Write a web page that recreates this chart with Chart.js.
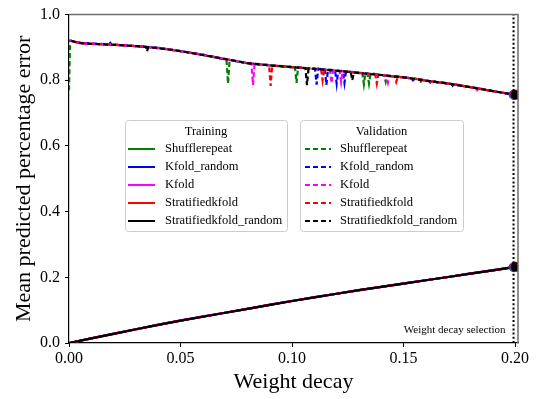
<!DOCTYPE html>
<html>
<head>
<meta charset="utf-8">
<script src="https://cdn.jsdelivr.net/npm/chart.js@4.4.1/dist/chart.umd.min.js"></script>
<style>
  html, body { margin: 0; padding: 0; background: #fff; }
  canvas { display: block; }
</style>
</head>
<body>
<canvas id="decayChart" width="547" height="399"></canvas>
<script>
// =====================================================
// DATA
// =====================================================
const xTicks = [0, 0.05, 0.1, 0.15, 0.2];
const yTicks = [0, 0.2, 0.4, 0.6, 0.8, 1.0];
const methods = ["Shufflerepeat", "Kfold_random", "Kfold", "Stratifiedkfold", "Stratifiedkfold_random"];
const colors = ["#008000", "#0000ff", "#ff00ff", "#ff0000", "#000000"];

// training error, shared weight decay grid
const trainX = [0, 0.01, 0.02, 0.03, 0.04, 0.05, 0.06, 0.07, 0.08, 0.09, 0.10,
                0.11, 0.12, 0.13, 0.14, 0.15, 0.16, 0.17, 0.18, 0.19, 0.20];
const trainShuffle     = [0, 0.014, 0.028, 0.042, 0.055, 0.068, 0.080, 0.092, 0.104, 0.116, 0.128, 0.139, 0.150, 0.161, 0.171, 0.181, 0.191, 0.201, 0.211, 0.221, 0.231];
const trainKfoldRandom = [0, 0.014, 0.029, 0.042, 0.056, 0.068, 0.081, 0.092, 0.104, 0.116, 0.128, 0.140, 0.150, 0.161, 0.171, 0.182, 0.191, 0.201, 0.212, 0.221, 0.232];
const trainKfold       = [0, 0.014, 0.028, 0.042, 0.055, 0.069, 0.080, 0.092, 0.104, 0.117, 0.128, 0.139, 0.150, 0.160, 0.171, 0.181, 0.191, 0.201, 0.211, 0.222, 0.232];
const trainStrat       = [0, 0.014, 0.028, 0.041, 0.055, 0.068, 0.080, 0.092, 0.104, 0.116, 0.128, 0.139, 0.150, 0.161, 0.171, 0.181, 0.191, 0.201, 0.211, 0.221, 0.232];
const trainStratRandom = [0, 0.014, 0.028, 0.042, 0.055, 0.068, 0.080, 0.092, 0.104, 0.116, 0.128, 0.139, 0.150, 0.161, 0.171, 0.181, 0.191, 0.201, 0.211, 0.221, 0.232];

// validation error, [weight decay, error] per method
const valShuffle = [[0,0.770],[0.0005,0.921],[0.005,0.914],[0.01,0.911],[0.02,0.908],[0.03,0.904],[0.04,0.898],[0.05,0.889],[0.06,0.877],[0.07,0.864],[0.0706,0.863],[0.0713,0.790],[0.072,0.862],[0.08,0.852],[0.09,0.846],[0.10,0.841],[0.1013,0.840],[0.102,0.792],[0.1027,0.839],[0.11,0.835],[0.12,0.829],[0.13,0.823],[0.1315,0.822],[0.1322,0.788],[0.1329,0.822],[0.1338,0.821],[0.1345,0.790],[0.1352,0.821],[0.14,0.816],[0.1413,0.815],[0.142,0.795],[0.1427,0.814],[0.15,0.809],[0.1573,0.802],[0.158,0.792],[0.1587,0.801],[0.16,0.799],[0.17,0.790],[0.18,0.779],[0.19,0.767],[0.2,0.756]];
const valKfoldRandom = [[0.0005,0.921],[0.005,0.914],[0.01,0.912],[0.018,0.910],[0.0185,0.914],[0.019,0.909],[0.03,0.904],[0.04,0.899],[0.05,0.889],[0.06,0.878],[0.07,0.864],[0.08,0.852],[0.09,0.845],[0.10,0.840],[0.1103,0.835],[0.111,0.787],[0.1117,0.835],[0.1147,0.833],[0.1154,0.786],[0.1161,0.833],[0.1193,0.830],[0.12,0.790],[0.1207,0.829],[0.1228,0.828],[0.1235,0.792],[0.1242,0.827],[0.13,0.823],[0.14,0.816],[0.15,0.809],[0.1535,0.806],[0.1542,0.800],[0.1549,0.805],[0.1613,0.798],[0.162,0.793],[0.1627,0.797],[0.1643,0.796],[0.165,0.793],[0.1657,0.795],[0.17,0.790],[0.1713,0.789],[0.172,0.783],[0.1727,0.788],[0.18,0.779],[0.19,0.767],[0.2,0.756]];
const valKfold = [[0.0005,0.921],[0.005,0.913],[0.01,0.911],[0.02,0.909],[0.03,0.904],[0.04,0.898],[0.05,0.889],[0.06,0.878],[0.07,0.865],[0.08,0.853],[0.0818,0.852],[0.0825,0.786],[0.0832,0.851],[0.09,0.846],[0.10,0.840],[0.11,0.835],[0.117,0.831],[0.1177,0.791],[0.1184,0.830],[0.1213,0.828],[0.122,0.795],[0.1227,0.828],[0.13,0.822],[0.14,0.816],[0.1423,0.814],[0.143,0.793],[0.1437,0.813],[0.15,0.809],[0.16,0.799],[0.17,0.790],[0.18,0.779],[0.1823,0.777],[0.183,0.770],[0.1837,0.776],[0.19,0.767],[0.2,0.756]];
const valStrat = [[0.0005,0.920],[0.005,0.913],[0.01,0.911],[0.02,0.908],[0.03,0.904],[0.04,0.898],[0.05,0.889],[0.06,0.877],[0.07,0.864],[0.08,0.852],[0.0897,0.846],[0.0904,0.783],[0.0911,0.845],[0.10,0.840],[0.11,0.835],[0.113,0.833],[0.1137,0.800],[0.1144,0.832],[0.12,0.829],[0.13,0.823],[0.1373,0.818],[0.138,0.790],[0.1387,0.817],[0.14,0.816],[0.146,0.811],[0.1467,0.795],[0.1474,0.810],[0.15,0.809],[0.1535,0.806],[0.1542,0.798],[0.1549,0.805],[0.16,0.799],[0.17,0.790],[0.18,0.779],[0.19,0.767],[0.2,0.756]];
const valStratRandom = [[0.0005,0.921],[0.005,0.913],[0.01,0.911],[0.02,0.908],[0.03,0.904],[0.0345,0.902],[0.035,0.888],[0.0355,0.901],[0.04,0.898],[0.05,0.889],[0.06,0.877],[0.07,0.865],[0.08,0.852],[0.09,0.845],[0.10,0.840],[0.106,0.837],[0.1067,0.785],[0.1074,0.836],[0.11,0.835],[0.12,0.829],[0.1263,0.825],[0.127,0.800],[0.1277,0.824],[0.13,0.822],[0.14,0.816],[0.15,0.809],[0.16,0.799],[0.17,0.790],[0.18,0.779],[0.19,0.767],[0.2,0.756]];

// end-of-run markers (selected weight decay), slightly offset per method
const markerX = [0.1993, 0.2, 0.2, 0.2006, 0.2];
const selectionX = 0.1993;

const trainSets = [trainShuffle, trainKfoldRandom, trainKfold, trainStrat, trainStratRandom];
const valSets = [valShuffle, valKfoldRandom, valKfold, valStrat, valStratRandom];

// =====================================================
// DATASETS
// =====================================================
const FONT = "'Liberation Serif', 'Times New Roman', serif";
let datasets = [];

methods.forEach((m, i) => {
    datasets.push({
        label: m + " (train)",
        data: trainX.map((x, k) => ({ x: x, y: trainSets[i][k] })),
        borderColor: colors[i],
        borderWidth: 2.2,
        pointRadius: 0,
        tension: 0
    });
});
methods.forEach((m, i) => {
    datasets.push({
        label: m + " (val)",
        data: valSets[i].map(p => ({ x: p[0], y: p[1] })),
        borderColor: colors[i],
        borderWidth: 2.2,
        borderDash: [5, 3],
        borderDashOffset: i * 1.7,
        pointRadius: 0,
        tension: 0
    });
});
methods.forEach((m, i) => {
    const tr = trainSets[i], va = valSets[i];
    datasets.push({
        label: m + " (end)",
        data: [{ x: markerX[i], y: tr[tr.length - 1] }, { x: markerX[i], y: va[va.length - 1][1] }],
        showLine: false,
        pointRadius: i === 4 ? 4 : 4.5,
        pointBackgroundColor: colors[i],
        pointBorderColor: colors[i],
        borderColor: colors[i]
    });
});
datasets.push({
    label: "selection",
    data: [{ x: selectionX, y: 0 }, { x: selectionX, y: 1 }],
    borderColor: "#000",
    borderWidth: 2,
    borderDash: [2, 2.2],
    pointRadius: 0
});

// Chart.js draws dataset 0 on top, so reverse to keep black last-drawn
datasets = datasets.reverse();

// =====================================================
// EXTRAS: spines, legend boxes, annotation
// =====================================================
function drawLegendBox(ctx, x, y, w, h, title, dashed) {
    ctx.save();
    ctx.fillStyle = "rgba(255,255,255,0.85)";
    ctx.strokeStyle = "#cccccc";
    ctx.lineWidth = 1;
    ctx.beginPath();
    ctx.roundRect(x + 0.5, y + 0.5, w, h, 3);
    ctx.fill();
    ctx.stroke();

    ctx.fillStyle = "#000";
    ctx.font = "12.5px " + FONT;
    ctx.textBaseline = "middle";
    ctx.textAlign = "center";
    ctx.fillText(title, x + w / 2, y + 12);

    ctx.textAlign = "left";
    methods.forEach((m, i) => {
        const ry = y + 29 + i * 18;
        ctx.strokeStyle = colors[i];
        ctx.lineWidth = 2;
        ctx.setLineDash(dashed ? [5, 3] : []);
        ctx.beginPath();
        ctx.moveTo(x + (dashed ? 5 : 3), ry);
        ctx.lineTo(x + (dashed ? 31 : 30), ry);
        ctx.stroke();
        ctx.setLineDash([]);
        ctx.fillStyle = "#000";
        ctx.fillText(m, x + 40, ry);
    });
    ctx.restore();
}

const extras = {
    id: "extras",
    afterDraw(chart) {
        const ctx = chart.ctx;
        const a = chart.chartArea;
        const xs = chart.scales.x;
        const ys = chart.scales.y;

        // top and right spines
        ctx.save();
        ctx.strokeStyle = "#6e6e6e";
        ctx.lineWidth = 1.5;
        ctx.beginPath();
        ctx.moveTo(a.left, a.top);
        ctx.lineTo(a.right, a.top);
        ctx.lineTo(a.right, a.bottom);
        ctx.stroke();
        ctx.restore();

        drawLegendBox(ctx, 125, 120, 162, 111, "Training", false);
        drawLegendBox(ctx, 300, 120, 163, 111, "Validation", true);

        ctx.save();
        ctx.fillStyle = "#000";
        ctx.font = "11px " + FONT;
        ctx.textAlign = "right";
        ctx.textBaseline = "alphabetic";
        ctx.fillText("Weight decay selection", xs.getPixelForValue(selectionX) - 8, ys.getPixelForValue(0) - 10);
        ctx.restore();
    }
};

// =====================================================
// CHART
// =====================================================
new Chart(document.getElementById("decayChart"), {
    type: "line",
    data: { datasets: datasets },
    options: {
        responsive: false,
        animation: false,
        layout: { padding: { top: 8, right: 29, left: 0, bottom: 0 } },
        plugins: {
            legend: { display: false },
            tooltip: { enabled: false }
        },
        scales: {
            x: {
                type: "linear",
                min: 0,
                max: 0.2013,
                afterBuildTicks: s => { s.ticks = xTicks.map(v => ({ value: v })); },
                afterFit: s => { s.height = 56; },
                grid: { drawOnChartArea: false, drawTicks: true, tickLength: 4, color: "#000", tickWidth: 1 },
                border: { display: true, color: "#000", width: 1.2 },
                ticks: {
                    color: "#000",
                    padding: 2,
                    maxRotation: 0,
                    font: { family: FONT, size: 16 },
                    callback: v => Number(v).toFixed(2)
                },
                title: {
                    display: true,
                    text: "Weight decay",
                    color: "#000",
                    font: { family: FONT, size: 22 },
                    padding: { top: 0, bottom: 4 }
                }
            },
            y: {
                min: 0,
                max: 1,
                afterBuildTicks: s => { s.ticks = yTicks.map(v => ({ value: v })); },
                afterFit: s => { s.width = 69; },
                grid: { drawOnChartArea: false, drawTicks: true, tickLength: 4, color: "#000", tickWidth: 1 },
                border: { display: true, color: "#000", width: 1.2 },
                ticks: {
                    color: "#000",
                    padding: 5,
                    font: { family: FONT, size: 16 },
                    callback: v => Number(v).toFixed(1)
                },
                title: {
                    display: true,
                    text: "Mean predicted percentage error",
                    color: "#000",
                    font: { family: FONT, size: 22 },
                    padding: { top: 11, bottom: 4 }
                }
            }
        }
    },
    plugins: [extras]
});
</script>
</body>
</html>
